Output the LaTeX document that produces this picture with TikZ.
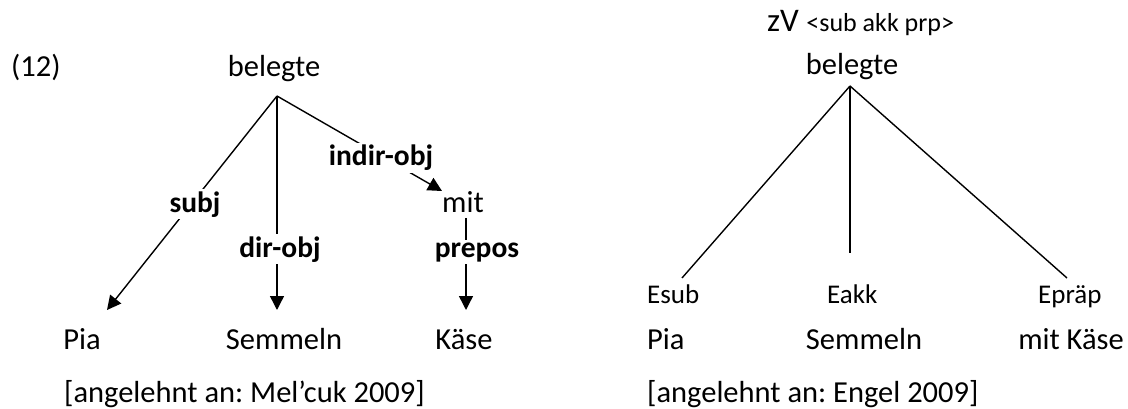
\documentclass[tikz,border=0pt]{standalone}
\usepackage{fontspec}
\setmainfont{Carlito}
\usetikzlibrary{arrows.meta}
\begin{document}
\frenchspacing
\begin{tikzpicture}[x=1pt,y=-1pt,
  word/.style={font=\fontsize{30.5}{36}\selectfont, inner sep=0pt, anchor=base},
  lab/.style={font=\fontsize{29.5}{35}\selectfont\bfseries, inner sep=2.5pt, fill=white, anchor=base},
  valenz/.style={font=\fontsize{27}{32}\selectfont, inner sep=0pt, anchor=base west},
  edge/.style={line width=1.4pt},
  dep/.style={edge, -{Triangle[length=14pt,width=14pt]}}]
\useasboundingbox (0,0) rectangle (1128,409);

% ---- dependency tree after Mel'cuk ----
\node[word, anchor=base west] (num) at (11,77) {(12)};
\node[word] (verbL) at (274,77) {belegte};
\coordinate (topL) at (277,96);
\node[word] (mit) at (463,213) {mit};
\node[word] (piaL) at (82,349) {Pia};
\node[word] (semL) at (284,349) {Semmeln};
\node[word] (kaese) at (464,349) {Käse};
\coordinate (piaIn) at (107,310);
\coordinate (semIn) at (277,310);
\coordinate (mitIn) at (442,191);
\coordinate (mitOut) at (466,218);
\coordinate (kaeseIn) at (466,310);

\draw[dep] (topL) -- (piaIn);
\draw[dep] (topL) -- (semIn);
\draw[dep] (topL) -- (mitIn);
\draw[dep] (mitOut) -- (kaeseIn);

\node[lab] (subj) at (195,212) {subj};
\node[lab] (dirobj) at (280,257) {dir-obj};
\node[lab] (indirobj) at (381,166) {indir-obj};
\node[lab] (prepos) at (477,257) {prepos};

\node[word, anchor=base west] (citeL) at (64,402) {[angelehnt an: Mel’cuk 2009]};

% ---- valency tree after Engel ----
\node[word, anchor=base west] (frame) at (767,32)
  {\fontsize{33}{39}\selectfont zV \fontsize{26}{31}\selectfont<sub akk prp>};
\node[word] (verbR) at (852,75) {belegte};
\coordinate (topR) at (850,86);
\coordinate (subEnd) at (682,278);
\coordinate (akkEnd) at (850,253);
\coordinate (praepEnd) at (1067,278);
\draw[edge] (topR) -- (subEnd);
\draw[edge] (topR) -- (akkEnd);
\draw[edge] (topR) -- (praepEnd);

\node[valenz] (esub) at (647,303) {Esub};
\node[valenz] (eakk) at (827,303) {Eakk};
\node[valenz] (epraep) at (1038,303) {Epräp};

\node[word, anchor=base west] (piaR) at (647,349) {Pia};
\node[word] (semR) at (864,349) {Semmeln};
\node[word, anchor=base east] (mitkaese) at (1124,349) {mit Käse};

\node[word, anchor=base west] (citeR) at (647,402) {[angelehnt an: Engel 2009]};
\end{tikzpicture}
\end{document}
